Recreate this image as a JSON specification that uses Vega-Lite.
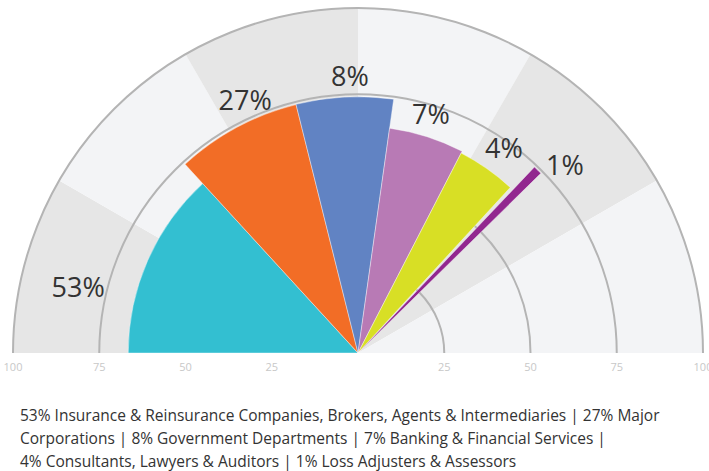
{
  "$schema": "https://vega.github.io/schema/vega-lite/v6.json",
  "width": 716,
  "height": 353,
  "autosize": "none",
  "padding": {"top": 0, "left": 0, "right": 0, "bottom": 118},
  "background": "#ffffff",
  "config": {"view": {"stroke": null}},
  "title": {
    "text": [
      "53% Insurance & Reinsurance Companies, Brokers, Agents & Intermediaries | 27% Major",
      "Corporations | 8% Government Departments | 7% Banking & Financial Services |",
      "4% Consultants, Lawyers & Auditors | 1% Loss Adjusters & Assessors"
    ],
    "orient": "bottom",
    "anchor": "start",
    "frame": "group",
    "dx": 20,
    "offset": 36,
    "font": "Open Sans",
    "fontSize": 15.5,
    "fontWeight": "normal",
    "lineHeight": 23,
    "color": "#333333"
  },
  "datasets": {
    "bars": [
      {"cat": "Insurance & Reinsurance Companies, Brokers, Agents & Intermediaries", "pct": "53%", "a0": 0, "a1": 47.5, "r": 66.6, "la": 12.9, "lr": 83.2},
      {"cat": "Major Corporations", "pct": "27%", "a0": 47.5, "a1": 76.0, "r": 74.2, "la": 65.8, "lr": 79.8},
      {"cat": "Government Departments", "pct": "8%", "a0": 76.0, "a1": 98.0, "r": 74.3, "la": 88.3, "lr": 79.7},
      {"cat": "Banking & Financial Services", "pct": "7%", "a0": 98.0, "a1": 117.3, "r": 65.8, "la": 107.1, "lr": 71.9},
      {"cat": "Consultants, Lawyers & Auditors", "pct": "4%", "a0": 117.3, "a1": 132.6, "r": 65.2, "la": 125.7, "lr": 72.5},
      {"cat": "Loss Adjusters & Assessors", "pct": "1%", "a0": 133.5, "a1": 135.5, "r": 74.3, "la": 138.0, "lr": 80.7}
    ],
    "bands": [
      {"a0": 0, "a1": 30, "shade": "dark"},
      {"a0": 30, "a1": 60, "shade": "light"},
      {"a0": 60, "a1": 90, "shade": "dark"},
      {"a0": 90, "a1": 120, "shade": "light"},
      {"a0": 120, "a1": 150, "shade": "dark"},
      {"a0": 150, "a1": 180, "shade": "light"}
    ],
    "grid": [{"g": 25}, {"g": 50}, {"g": 75}, {"g": 100}],
    "ticks": [
      {"t": "100", "v": 100, "a": 0},
      {"t": "75", "v": 75, "a": 0},
      {"t": "50", "v": 50, "a": 0},
      {"t": "25", "v": 25, "a": 0},
      {"t": "25", "v": 25, "a": 180},
      {"t": "50", "v": 50, "a": 180},
      {"t": "75", "v": 75, "a": 180},
      {"t": "100", "v": 100, "a": 180}
    ]
  },
  "resolve": {"scale": {"color": "independent"}},
  "layer": [
    {
      "data": {"name": "bands"},
      "mark": {"type": "arc", "y": {"expr": "height"}},
      "encoding": {
        "theta": {"field": "a0", "type": "quantitative", "scale": {"domain": [0, 180], "range": [-1.5707963, 1.5707963]}},
        "theta2": {"field": "a1"},
        "radius": {"datum": 100, "type": "quantitative", "scale": {"type": "linear", "domain": [0, 100], "range": [0, 345], "zero": true}},
        "radius2": {"datum": 0},
        "color": {"field": "shade", "type": "nominal", "scale": {"domain": ["dark", "light"], "range": ["#e6e6e6", "#f3f4f6"]}, "legend": null}
      }
    },
    {
      "data": {"name": "grid"},
      "mark": {"type": "arc", "filled": false, "stroke": "#b4b4b4", "strokeWidth": 2, "y": {"expr": "height"}},
      "encoding": {
        "theta": {"datum": 0, "type": "quantitative", "scale": {"domain": [0, 180], "range": [-1.5707963, 1.5707963]}},
        "theta2": {"datum": 180},
        "radius": {"field": "g", "type": "quantitative", "scale": {"type": "linear", "domain": [0, 100], "range": [0, 345], "zero": true}},
        "radius2": {"field": "g"}
      }
    },
    {
      "data": {"name": "bars"},
      "mark": {"type": "arc", "stroke": "#ffffff", "strokeWidth": 0.4, "y": {"expr": "height"}},
      "encoding": {
        "theta": {"field": "a0", "type": "quantitative", "scale": {"domain": [0, 180], "range": [-1.5707963, 1.5707963]}},
        "theta2": {"field": "a1"},
        "radius": {"field": "r", "type": "quantitative", "scale": {"type": "linear", "domain": [0, 100], "range": [0, 345], "zero": true}},
        "radius2": {"datum": 0},
        "color": {
          "field": "cat", "type": "nominal", "legend": null,
          "scale": {
            "domain": ["Insurance & Reinsurance Companies, Brokers, Agents & Intermediaries", "Major Corporations", "Government Departments", "Banking & Financial Services", "Consultants, Lawyers & Auditors", "Loss Adjusters & Assessors"],
            "range": ["#33bfd1", "#f26d26", "#6183c3", "#b87ab5", "#d8df25", "#92278f"]
          }
        }
      }
    },
    {
      "data": {"name": "bars"},
      "mark": {"type": "text", "font": "Open Sans", "fontSize": 27, "fontWeight": "normal", "color": "#333333", "align": "center", "baseline": "middle", "y": {"expr": "height"}},
      "encoding": {
        "theta": {"field": "la", "type": "quantitative", "scale": {"domain": [0, 180], "range": [-1.5707963, 1.5707963]}},
        "radius": {"field": "lr", "type": "quantitative", "scale": {"type": "linear", "domain": [0, 100], "range": [0, 345], "zero": true}},
        "text": {"field": "pct"}
      }
    },
    {
      "data": {"name": "ticks"},
      "mark": {"type": "text", "font": "Open Sans", "fontSize": 11, "color": "#c8c8c8", "align": "center", "baseline": "middle", "dy": 15, "y": {"expr": "height"}},
      "encoding": {
        "theta": {"field": "a", "type": "quantitative", "scale": {"domain": [0, 180], "range": [-1.5707963, 1.5707963]}},
        "radius": {"field": "v", "type": "quantitative", "scale": {"type": "linear", "domain": [0, 100], "range": [0, 345], "zero": true}},
        "text": {"field": "t"}
      }
    }
  ]
}
